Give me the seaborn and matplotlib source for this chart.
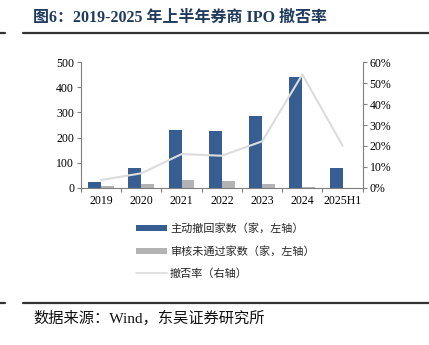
import matplotlib
matplotlib.use("Agg")
import matplotlib.pyplot as plt
import seaborn as sns
import pandas as pd
from matplotlib.patches import Patch
from matplotlib.lines import Line2D
from matplotlib.ticker import FuncFormatter, MultipleLocator, FixedLocator

years = ["2019", "2020", "2021", "2022", "2023", "2024", "2025H1"]
withdrawn = [23, 77, 231, 225, 285, 440, 80]
rejected = [6, 13, 32, 28, 15, 2, 0]
rate = [3.7, 6.9, 16.1, 15.3, 22.2, 54.2, 20.1]

lab_w = "主动撤回家数（家，左轴）"
lab_r = "审核未通过家数（家，左轴）"
lab_rate = "撤否率（右轴）"

sns.set_theme(style="white")
plt.rcParams['font.family'] = ['Liberation Serif', 'Noto Sans CJK SC']
plt.rcParams['axes.unicode_minus'] = False

BLUE = "#365E93"
GREY = "#B3B3B3"
LINE = "#DCDCDC"
SPINE = "#7F7F7F"

df = pd.DataFrame({
    "year": years * 2,
    "value": withdrawn + rejected,
    "kind": [lab_w] * len(years) + [lab_r] * len(years),
})

fig = plt.figure(figsize=(4.29, 3.45), dpi=100)
ax = fig.add_axes([0.1888, 0.4559, 0.8455 - 0.1888, 0.8194 - 0.4559])

sns.barplot(data=df, x="year", y="value", hue="kind", order=years,
            hue_order=[lab_w, lab_r], palette=[BLUE, GREY], width=0.64,
            dodge=True, saturation=1, legend=False, ax=ax, edgecolor="none")
ax.set_xlim(-0.5, 6.5)
ax.set_ylim(0, 500)
ax.yaxis.set_major_locator(MultipleLocator(100))
ax.set_xlabel("")
ax.set_ylabel("")

ax2 = ax.twinx()
sns.lineplot(x=list(range(len(years))), y=rate, color=LINE, linewidth=1.5, ax=ax2)
ax2.set_ylim(0, 60)
ax2.yaxis.set_major_locator(MultipleLocator(10))
ax2.yaxis.set_major_formatter(FuncFormatter(lambda v, p: f"{v:.0f}%"))
ax2.set_xlim(-0.5, 6.5)

for a in (ax, ax2):
    a.spines['top'].set_visible(False)
    for s in ('left', 'right', 'bottom'):
        a.spines[s].set_color(SPINE)
        a.spines[s].set_linewidth(0.8)
    a.grid(False)

ax.spines['right'].set_visible(False)
ax2.spines['left'].set_visible(False)
ax2.spines['bottom'].set_visible(False)

TS = 8.5
ax.tick_params(axis='y', which='major', direction='out', length=3, width=0.8,
               color=SPINE, labelsize=TS, labelcolor="#000000", pad=2, left=True)
ax2.tick_params(axis='y', which='major', direction='out', length=3, width=0.8,
                color=SPINE, labelsize=TS, labelcolor="#000000", pad=2, right=True)
ax.set_xticks(range(len(years)))
ax.set_xticklabels(years)
ax.xaxis.set_minor_locator(FixedLocator([i - 0.5 for i in range(len(years) + 1)]))
ax.tick_params(axis='x', which='major', length=0, labelsize=TS, labelcolor="#000000", pad=5)
ax.tick_params(axis='x', which='minor', direction='out', length=3, width=0.8,
               color=SPINE, bottom=True)

handles = [
    Patch(facecolor=BLUE, edgecolor="none"),
    Patch(facecolor=GREY, edgecolor="none"),
    Line2D([0], [0], color=LINE, linewidth=1.2),
]
fig.legend(handles, [lab_w, lab_r, lab_rate], loc="upper left",
           bbox_to_anchor=(134 / 429, 1 - 221 / 345), frameon=False,
           prop={'family': ['Noto Sans CJK SC'], 'size': 8},
           handlelength=2.8, handleheight=0.5, handletextpad=0.25,
           labelspacing=1.05, borderaxespad=0, borderpad=0.2)

fig.text(33 / 429, 1 - 18 / 345, "图6：2019-2025 年上半年券商 IPO 撤否率",
         fontsize=11.5, fontweight="bold", color="#1F3A5F", va="center", ha="left",
         family=['Liberation Serif', 'Noto Sans CJK SC'])

for y in (33, 303):
    fig.add_artist(Line2D([0, 5 / 429], [1 - y / 345] * 2, color="#333333", linewidth=1.6))
    fig.add_artist(Line2D([23 / 429, 1], [1 - y / 345] * 2, color="#333333", linewidth=1.6))

fig.text(33 / 429, 1 - 318 / 345, "数据来源：Wind，东吴证券研究所",
         fontsize=11, color="#111111", va="center", ha="left",
         family=['Liberation Serif', 'Noto Sans CJK SC'])

fig.savefig("out.png", dpi=100)
